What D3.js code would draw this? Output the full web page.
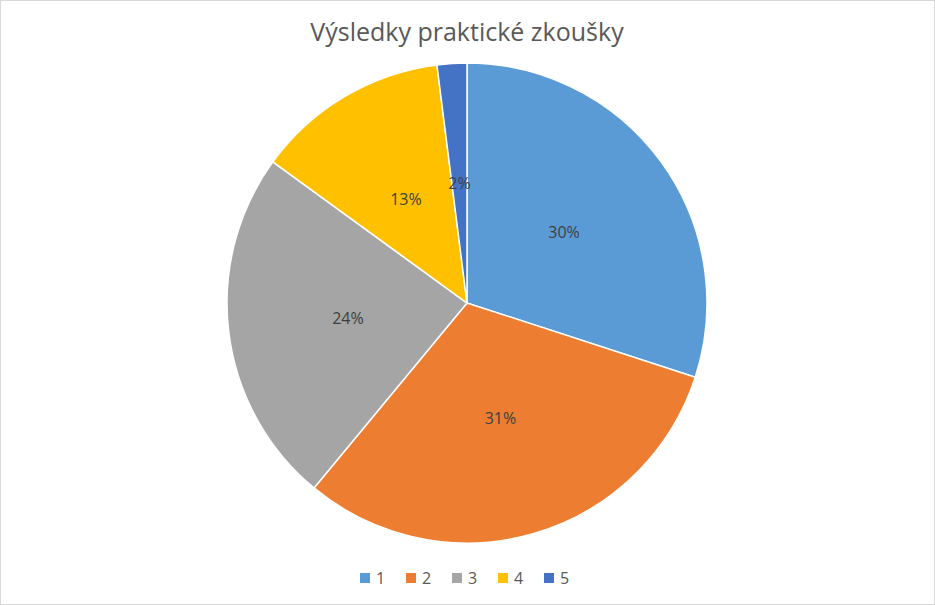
<!DOCTYPE html>
<html><head><meta charset="utf-8">
<script src="https://cdn.jsdelivr.net/npm/d3@7"></script>
<style>body{margin:0;background:#fff;font-family:"Open Sans",Calibri,sans-serif;}</style>
</head><body>
<svg id="c" width="935" height="605"></svg>
<script>
const categories = ["1", "2", "3", "4", "5"];
const values = [30, 31, 24, 13, 2];
const colors = ["#5b9bd5", "#ed7d31", "#a5a5a5", "#ffc000", "#4472c4"];

const svg = d3.select("#c");
svg.append("rect").attr("x", 0.5).attr("y", 0.5).attr("width", 934).attr("height", 604)
    .attr("fill", "#fff").attr("stroke", "#d9d9d9");

svg.append("text").attr("x", 467).attr("y", 41).attr("text-anchor", "middle")
    .attr("font-size", 25).attr("fill", "#595959").text("Výsledky praktické zkoušky");

const r = 240;
const g = svg.append("g").attr("transform", "translate(467,303)");
const pie = d3.pie().sort(null).value(d => d);
const arc = d3.arc().innerRadius(0).outerRadius(r);
const arcs = pie(values);
const total = d3.sum(values);

g.selectAll("path").data(arcs).join("path")
    .attr("d", arc).attr("fill", (d, i) => colors[i])
    .attr("stroke", "#fff").attr("stroke-width", 1.5);

g.selectAll("text").data(arcs).join("text")
    .attr("transform", d => `translate(${arc.centroid(d)})`)
    .attr("text-anchor", "middle").attr("dy", "0.35em")
    .attr("font-size", 16).attr("fill", "#404040")
    .text(d => Math.round(d.data / total * 100) + "%");

const leg = svg.append("g").attr("transform", "translate(360,578)");
const item = leg.selectAll("g").data(categories).join("g")
    .attr("transform", (d, i) => `translate(${i * 46},0)`);
item.append("rect").attr("x", 0).attr("y", -5).attr("width", 10).attr("height", 10)
    .attr("fill", (d, i) => colors[i]);
item.append("text").attr("x", 16).attr("dy", "0.35em").attr("font-size", 16)
    .attr("fill", "#595959").text(d => d);
</script>
</body></html>
